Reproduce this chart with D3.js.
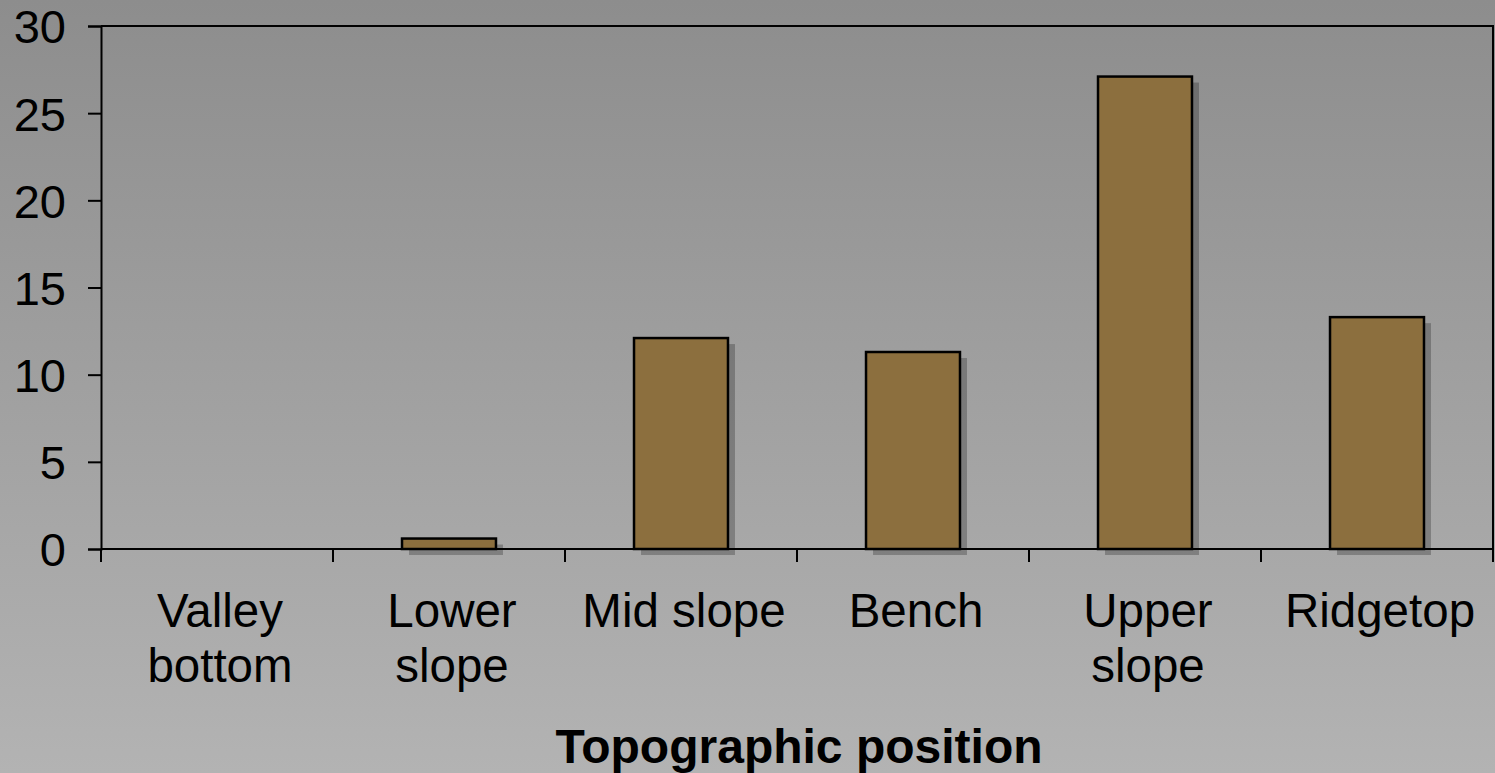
<!DOCTYPE html>
<html>
<head>
<meta charset="utf-8">
<script src="https://cdn.jsdelivr.net/npm/d3@7"></script>
<style>
  html, body { margin: 0; padding: 0; background: #a0a0a0; }
  svg { display: block; }
  text { font-family: "Liberation Sans", Arial, sans-serif; fill: #000; }
</style>
</head>
<body>
<svg id="chart" width="1495" height="773"></svg>
<script>
// Category names (line-broken as printed under the axis)
const categories = ["Valley bottom", "Lower slope", "Mid slope", "Bench", "Upper slope", "Ridgetop"];
const categoryLines = [["Valley", "bottom"], ["Lower", "slope"], ["Mid slope"], ["Bench"], ["Upper", "slope"], ["Ridgetop"]];
// Values per topographic position
const values = [0, 0.6, 12.1, 11.3, 27.1, 13.3];
// Y axis ticks
const yTicks = [0, 5, 10, 15, 20, 25, 30];
const xTitle = "Topographic position";

const W = 1495, H = 773;
const plot = { left: 101, right: 1493, top: 26, bottom: 549 };

const svg = d3.select("#chart");

// Background gradient
const defs = svg.append("defs");
const grad = defs.append("linearGradient")
  .attr("id", "bg").attr("x1", 0).attr("y1", 0).attr("x2", 0).attr("y2", 1);
grad.append("stop").attr("offset", "0%").attr("stop-color", "#8d8d8d");
grad.append("stop").attr("offset", "100%").attr("stop-color", "#b3b3b3");
svg.append("rect").attr("width", W).attr("height", H).attr("fill", "url(#bg)");

const x = d3.scaleBand()
  .domain(categories)
  .range([plot.left, plot.right])
  .paddingInner(0.595)
  .paddingOuter(0.2975);

const y = d3.scaleLinear()
  .domain([0, 30])
  .range([plot.bottom, plot.top]);

const data = categories.map((c, i) => ({ cat: c, value: values[i], lines: categoryLines[i] }));

// Plot area frame (top and right edges)
svg.append("path")
  .attr("d", `M${plot.left},${plot.top}H${plot.right}V${plot.bottom}`)
  .attr("fill", "none").attr("stroke", "#000").attr("stroke-width", 2);

// Bar shadows
const shadowDx = 7, shadowDy = 6;
svg.append("g").selectAll("rect").data(data.filter(d => d.value > 0)).join("rect")
  .attr("x", d => x(d.cat) + shadowDx)
  .attr("y", d => y(d.value) + shadowDy)
  .attr("width", x.bandwidth())
  .attr("height", d => Math.max(0, y(0) - y(d.value)))
  .attr("fill", "rgba(0,0,0,0.24)");

// Bars
svg.append("g").selectAll("rect").data(data.filter(d => d.value > 0)).join("rect")
  .attr("x", d => x(d.cat))
  .attr("y", d => y(d.value))
  .attr("width", x.bandwidth())
  .attr("height", d => y(0) - y(d.value))
  .attr("fill", "#8c6f3e")
  .attr("stroke", "#000")
  .attr("stroke-width", 2.5);

// Y axis
const yAxis = svg.append("g").attr("transform", `translate(${plot.left},0)`)
  .call(d3.axisLeft(y).tickValues(yTicks).tickSize(13).tickPadding(22).tickFormat(d3.format("d")));
yAxis.select(".domain").attr("stroke", "#000").attr("stroke-width", 2);
yAxis.selectAll(".tick line").attr("stroke", "#000").attr("stroke-width", 2);
yAxis.selectAll(".tick text")
  .style("font-family", "'Liberation Sans', Arial, sans-serif")
  .style("font-size", "47px").attr("fill", "#000").attr("dy", "0.36em");

// X axis: baseline and category-boundary ticks
const gap = (x.step() - x.bandwidth()) / 2;
const boundaries = categories.map(c => x(c) - gap).concat([x(categories[categories.length - 1]) + x.bandwidth() + gap]);
const xg = svg.append("g");
xg.append("line")
  .attr("x1", plot.left).attr("x2", plot.right)
  .attr("y1", y(0)).attr("y2", y(0))
  .attr("stroke", "#000").attr("stroke-width", 2);
xg.selectAll("line.tick").data(boundaries).join("line")
  .attr("class", "tick")
  .attr("x1", d => d).attr("x2", d => d)
  .attr("y1", y(0)).attr("y2", y(0) + 13)
  .attr("stroke", "#000").attr("stroke-width", 2);

// Category labels
const labelShift = 3;
const labels = svg.append("g").selectAll("text").data(data).join("text")
  .attr("text-anchor", "middle")
  .attr("x", d => x(d.cat) + x.bandwidth() / 2 + labelShift)
  .attr("y", 627)
  .style("font-size", "47.5px");
labels.selectAll("tspan").data(d => d.lines.map(l => ({ l, cx: x(d.cat) + x.bandwidth() / 2 + labelShift }))).join("tspan")
  .attr("x", d => d.cx)
  .attr("dy", (d, i) => i === 0 ? 0 : 55)
  .text(d => d.l);

// Axis title
svg.append("text")
  .attr("x", (plot.left + plot.right) / 2 + 2)
  .attr("y", 763)
  .attr("text-anchor", "middle")
  .style("font-size", "48px")
  .style("font-weight", "bold")
  .text(xTitle);
</script>
</body>
</html>
